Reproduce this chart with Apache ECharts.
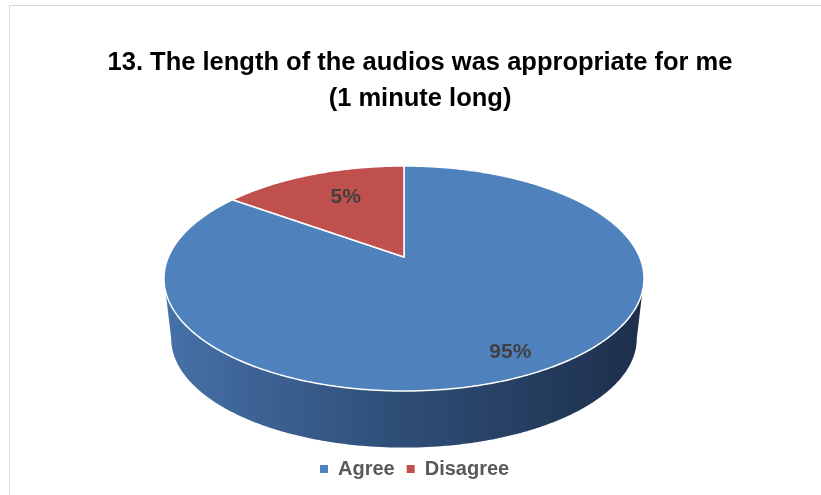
<!DOCTYPE html>
<html lang="en">
<head>
    <meta charset="UTF-8">
    <title>Audio length survey</title>
    <script src="https://cdn.jsdelivr.net/npm/echarts@6/dist/echarts.min.js"></script>
    <style>
        body {
            margin: 0;
            padding: 0;
            background-color: #ffffff;
            overflow: hidden;
        }
        .frame {
            position: absolute;
            left: 9px;
            top: 5px;
            width: 900px;
            height: 600px;
            border: 1px solid #d9d9d9;
        }
        #chart {
            position: absolute;
            left: 0;
            top: 0;
            width: 821px;
            height: 495px;
        }
    </style>
</head>
<body>
<div class="frame"></div>
<div id="chart"></div>

<script>
    // data
    var categories = ['Agree', 'Disagree'];
    var values = [85, 15];          // slice sizes as drawn in the picture
    var labelTexts = ['95%', '5%']; // labels as printed on the chart

    var colors = ['#4f81bd', '#c0504d'];
    var fontName = 'Liberation Sans';

    // pseudo 3d pie: circle seen in perspective (top face + bottom face)
    var cx = 404, k = -0.191;
    var faces = [
        { A: 235.6, B: 108.4, c0: 257 },   // top
        { A: 228.5, B: 105.1, c0: 317.7 }  // bottom
    ];
    var sideFrom = 101, sideTo = 259;       // visible part of the wall, degrees from the back
    var labelFrac = [0.85, 0.6];
    var labelNudge = [[0, -1], [0, -7]];

    var total = values.reduce(function (a, b) { return a + b; }, 0);

    // alpha: degrees clockwise from the back (12 o'clock), r: 0..1
    function proj(alpha, r, face) {
        var f = faces[face];
        var t = alpha * Math.PI / 180;
        var u = r * Math.sin(t), v = -r * Math.cos(t);
        var d = 1 + k * v;
        return [cx + f.A * u / d, f.c0 + f.B * v / d];
    }

    function sliceAngles(i) {
        var before = 0;
        for (var j = 0; j < i; j++) before += values[j];
        return [360 * before / total, 360 * (before + values[i]) / total];
    }

    function arc(a0, a1, face) {
        var pts = [], n = Math.max(2, Math.ceil(Math.abs(a1 - a0) * 2));
        for (var j = 0; j <= n; j++) pts.push(proj(a0 + (a1 - a0) * j / n, 1, face));
        return pts;
    }

    var sideGradient = {
        type: 'linear', global: true,
        x: 164, y: 0, x2: 644, y2: 0,
        colorStops: [
            { offset: 0, color: '#4671a8' },
            { offset: 0.45, color: '#30507a' },
            { offset: 1, color: '#1d2f4b' }
        ]
    };

    function renderSlice(params, api) {
        var i = params.seriesIndex;
        var ang = sliceAngles(i);
        var a0 = ang[0], a1 = ang[1];
        var children = [];

        // side wall, only where it faces the viewer
        var s = Math.max(a0, sideFrom), e = Math.min(a1, sideTo);
        if (e > s) {
            var wall = arc(s, e, 0).concat(arc(e, s, 1));
            children.push({
                type: 'polygon',
                z2: 1,
                shape: { points: wall },
                style: { fill: sideGradient, stroke: null }
            });
        }

        // top face
        var top = [proj(0, 0, 0)].concat(arc(a0, a1, 0));
        children.push({
            type: 'polygon',
            z2: 10,
            shape: { points: top },
            style: { fill: colors[i], stroke: '#ffffff', lineWidth: 1.5, lineJoin: 'round' }
        });

        // data label
        var lp = proj((a0 + a1) / 2, labelFrac[i], 0);
        children.push({
            type: 'text',
            z2: 20,
            x: lp[0] + labelNudge[i][0],
            y: lp[1] + labelNudge[i][1],
            style: {
                text: labelTexts[i],
                fill: '#404040',
                font: 'bold 21px ' + fontName,
                align: 'center',
                verticalAlign: 'middle'
            }
        });

        return { type: 'group', children: children };
    }

    var chart = echarts.init(document.getElementById('chart'));

    var series = categories.map(function (name, i) {
        return {
            name: name,
            type: 'custom',
            coordinateSystem: 'none',
            silent: true,
            itemStyle: { color: colors[i] },
            renderItem: renderSlice,
            data: [values[i]]
        };
    });

    var option = {
        backgroundColor: 'transparent',
        animation: false,
        title: {
            text: '13. The length of the audios was appropriate for me\n(1 minute long)',
            left: 420,
            top: 45,
            padding: 0,
            textAlign: 'center',
            textStyle: {
                fontFamily: fontName,
                fontWeight: 'bold',
                fontSize: 25.5,
                lineHeight: 36,
                color: '#000000'
            }
        },
        legend: {
            data: categories,
            left: 320,
            top: 459,
            padding: 0,
            icon: 'rect',
            itemWidth: 8,
            itemHeight: 8,
            itemGap: 12,
            selectedMode: false,
            textStyle: {
                fontFamily: fontName,
                fontWeight: 'bold',
                fontSize: 20,
                color: '#595959',
                padding: [0, 0, 0, 5]
            }
        },
        series: series
    };

    chart.setOption(option);
</script>
</body>
</html>
